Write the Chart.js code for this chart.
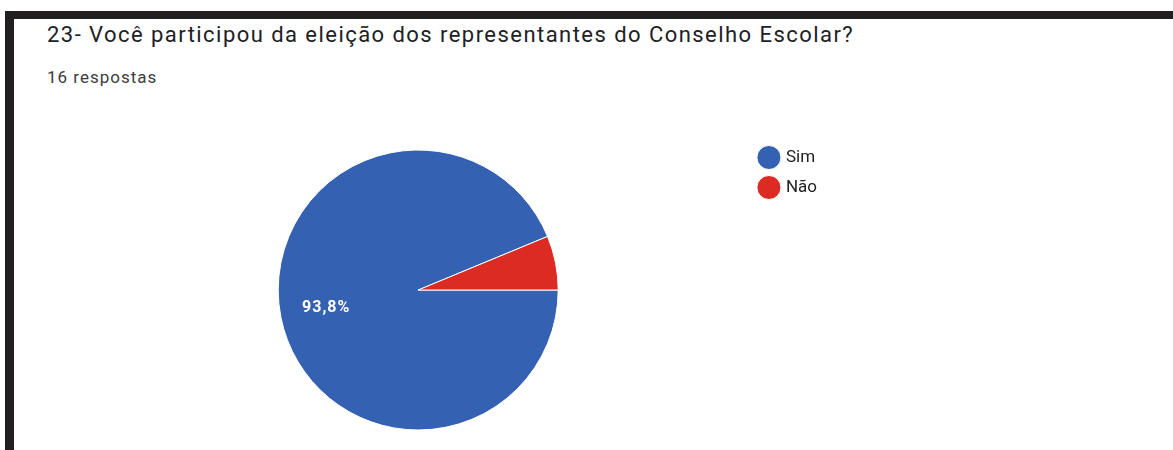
<!DOCTYPE html>
<html>
<head>
<meta charset="utf-8">
<script src="https://cdn.jsdelivr.net/npm/chart.js@4/dist/chart.umd.min.js"></script>
<style>
  html, body { margin: 0; padding: 0; background: #fff; }
  body { width: 1173px; height: 450px; position: relative; overflow: hidden; font-family: Roboto, Arial, sans-serif; }
  #frameTop { position: absolute; left: 5px; top: 11px; width: 1168px; height: 8px; background: #221f20; }
  #frameLeft { position: absolute; left: 5px; top: 11px; width: 9px; height: 439px; background: #221f20; }
  #title { position: absolute; left: 47px; top: 22px; font-size: 22px; letter-spacing: 1.45px; color: #202124; white-space: nowrap; }
  #sub { position: absolute; left: 47px; top: 67px; font-size: 17px; letter-spacing: 1px; color: #3c3c3c; white-space: nowrap; }
  #wrap { position: absolute; left: 0; top: 130px; width: 1173px; height: 320px; }
</style>
</head>
<body>
<div id="frameTop"></div>
<div id="frameLeft"></div>
<div id="title">23- Você participou da eleição dos representantes do Conselho Escolar?</div>
<div id="sub">16 respostas</div>
<div id="wrap"><canvas id="pieChart"></canvas></div>
<script>
const answers = ['Sim', 'Não'];
const counts = [15, 1];
const sliceColors = ['#3461b2', '#dc2b22'];

// percentage labels inside the slices, like google forms does
const sliceLabels = {
  id: 'sliceLabels',
  afterDatasetsDraw(chart) {
    const ctx = chart.ctx;
    const meta = chart.getDatasetMeta(0);
    const total = counts.reduce((a, b) => a + b, 0);
    meta.data.forEach((arc, i) => {
      const pct = counts[i] / total * 100;
      if (pct < 10) return;
      const mid = (arc.startAngle + arc.endAngle) / 2;
      const r = arc.outerRadius * 0.67;
      const x = arc.x + Math.cos(mid) * r;
      const y = arc.y + Math.sin(mid) * r;
      ctx.save();
      ctx.fillStyle = '#fff';
      ctx.font = 'bold 16px Roboto, Arial, sans-serif';
      ctx.letterSpacing = '1px';
      ctx.textAlign = 'center';
      ctx.textBaseline = 'middle';
      ctx.fillText(pct.toFixed(1).replace('.', ',') + '%', x, y);
      ctx.restore();
    });
  }
};

new Chart(document.getElementById('pieChart'), {
  type: 'pie',
  data: {
    labels: answers,
    datasets: [{
      data: counts,
      backgroundColor: sliceColors,
      borderColor: '#fff',
      borderWidth: 1,
      radius: 140
    }]
  },
  options: {
    responsive: true,
    maintainAspectRatio: false,
    animation: false,
    rotation: 90,
    layout: { padding: { left: 89, right: 346, top: 6, bottom: 6 } },
    plugins: {
      tooltip: { enabled: false },
      legend: {
        position: 'right',
        align: 'start',
        labels: {
          usePointStyle: true,
          pointStyle: 'circle',
          boxWidth: 17,
          boxHeight: 17,
          padding: 13,
          color: '#222',
          font: { family: 'Roboto, Arial, sans-serif', size: 17 }
        }
      }
    }
  },
  plugins: [sliceLabels]
});
</script>
</body>
</html>
